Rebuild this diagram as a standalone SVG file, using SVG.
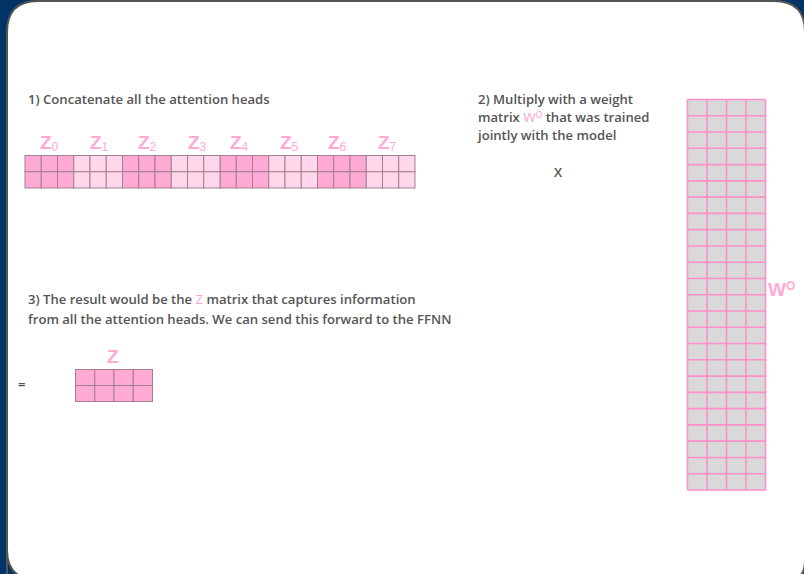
<svg xmlns="http://www.w3.org/2000/svg" width="804" height="574" viewBox="0 0 804 574">
<defs>
<style>
.t{font-family:"Open Sans","Liberation Sans",sans-serif;font-size:13.1px;font-weight:600;fill:#555}
.z{font-family:"Liberation Sans","Arial",sans-serif;font-size:19px;font-weight:700;fill:#ffaad5}
.zs{font-size:12px;font-weight:400}
.pk{fill:#ff9fd2}
.dk{fill:#ffaad4;stroke:#a08090;stroke-width:1}
.lt{fill:#ffd6ea;stroke:#a08090;stroke-width:1}
.wl{stroke:#ff8fc8;stroke-width:1.6;fill:none}
</style>
</defs>
<rect x="0" y="0" width="804" height="574" fill="#003366"/>
<path d="M7 574 V32 Q7 1 38 1 H774 Q805 1 805 32 V560 Q805 580 790 580 H38 Q7 580 7 550 Z" fill="#fff" stroke="#555" stroke-width="2"/>
<rect x="8" y="70" width="6" height="420" fill="#fff"/>

<g id="step1">
<text class="t" x="28" y="104">1) Concatenate all the attention heads</text>
</g>

<g id="heads-labels">
<text class="z" x="40" y="149">Z<tspan class="zs" dy="2">0</tspan></text>
<text class="z" x="90" y="149">Z<tspan class="zs" dy="2">1</tspan></text>
<text class="z" x="138" y="149">Z<tspan class="zs" dy="2">2</tspan></text>
<text class="z" x="188" y="149">Z<tspan class="zs" dy="2">3</tspan></text>
<text class="z" x="230" y="149">Z<tspan class="zs" dy="2">4</tspan></text>
<text class="z" x="280" y="149">Z<tspan class="zs" dy="2">5</tspan></text>
<text class="z" x="328" y="149">Z<tspan class="zs" dy="2">6</tspan></text>
<text class="z" x="378" y="149">Z<tspan class="zs" dy="2">7</tspan></text>
</g>

<g id="concat-matrix">
<g class="dk">
<rect x="25" y="155.5" width="16.25" height="16.25"/><rect x="41.25" y="155.5" width="16.25" height="16.25"/><rect x="57.5" y="155.5" width="16.25" height="16.25"/>
<rect x="25" y="171.75" width="16.25" height="16.25"/><rect x="41.25" y="171.75" width="16.25" height="16.25"/><rect x="57.5" y="171.75" width="16.25" height="16.25"/>
<rect x="122.5" y="155.5" width="16.25" height="16.25"/><rect x="138.75" y="155.5" width="16.25" height="16.25"/><rect x="155" y="155.5" width="16.25" height="16.25"/>
<rect x="122.5" y="171.75" width="16.25" height="16.25"/><rect x="138.75" y="171.75" width="16.25" height="16.25"/><rect x="155" y="171.75" width="16.25" height="16.25"/>
<rect x="220" y="155.5" width="16.25" height="16.25"/><rect x="236.25" y="155.5" width="16.25" height="16.25"/><rect x="252.5" y="155.5" width="16.25" height="16.25"/>
<rect x="220" y="171.75" width="16.25" height="16.25"/><rect x="236.25" y="171.75" width="16.25" height="16.25"/><rect x="252.5" y="171.75" width="16.25" height="16.25"/>
<rect x="317.5" y="155.5" width="16.25" height="16.25"/><rect x="333.75" y="155.5" width="16.25" height="16.25"/><rect x="350" y="155.5" width="16.25" height="16.25"/>
<rect x="317.5" y="171.75" width="16.25" height="16.25"/><rect x="333.75" y="171.75" width="16.25" height="16.25"/><rect x="350" y="171.75" width="16.25" height="16.25"/>
</g>
<g class="lt">
<rect x="73.75" y="155.5" width="16.25" height="16.25"/><rect x="90" y="155.5" width="16.25" height="16.25"/><rect x="106.25" y="155.5" width="16.25" height="16.25"/>
<rect x="73.75" y="171.75" width="16.25" height="16.25"/><rect x="90" y="171.75" width="16.25" height="16.25"/><rect x="106.25" y="171.75" width="16.25" height="16.25"/>
<rect x="171.25" y="155.5" width="16.25" height="16.25"/><rect x="187.5" y="155.5" width="16.25" height="16.25"/><rect x="203.75" y="155.5" width="16.25" height="16.25"/>
<rect x="171.25" y="171.75" width="16.25" height="16.25"/><rect x="187.5" y="171.75" width="16.25" height="16.25"/><rect x="203.75" y="171.75" width="16.25" height="16.25"/>
<rect x="268.75" y="155.5" width="16.25" height="16.25"/><rect x="285" y="155.5" width="16.25" height="16.25"/><rect x="301.25" y="155.5" width="16.25" height="16.25"/>
<rect x="268.75" y="171.75" width="16.25" height="16.25"/><rect x="285" y="171.75" width="16.25" height="16.25"/><rect x="301.25" y="171.75" width="16.25" height="16.25"/>
<rect x="366.25" y="155.5" width="16.25" height="16.25"/><rect x="382.5" y="155.5" width="16.25" height="16.25"/><rect x="398.75" y="155.5" width="16.25" height="16.25"/>
<rect x="366.25" y="171.75" width="16.25" height="16.25"/><rect x="382.5" y="171.75" width="16.25" height="16.25"/><rect x="398.75" y="171.75" width="16.25" height="16.25"/>
</g>
</g>

<g id="step2">
<text class="t" x="478" y="104">2) Multiply with a weight</text>
<text class="t" x="478" y="122">matrix <tspan class="pk" font-weight="400" font-size="13.5">W<tspan font-size="8.5" dy="-4">O</tspan></tspan><tspan dy="4"> that was trained</tspan></text>
<text class="t" x="478" y="140">jointly with the model</text>
<text class="t" x="554" y="177" font-weight="400">X</text>
</g>

<g id="wo-matrix">
<rect x="687.5" y="99.5" width="78" height="390.5" fill="#d9d9d9"/>
<path class="wl" d="M687.5 99.5V490M707 99.5V490M726.5 99.5V490M746 99.5V490M765.5 99.5V490
M687.5 99.5H765.5M687.5 115.77H765.5M687.5 132.04H765.5M687.5 148.31H765.5M687.5 164.58H765.5M687.5 180.85H765.5
M687.5 197.12H765.5M687.5 213.39H765.5M687.5 229.66H765.5M687.5 245.93H765.5M687.5 262.2H765.5M687.5 278.47H765.5
M687.5 294.74H765.5M687.5 311.01H765.5M687.5 327.28H765.5M687.5 343.55H765.5M687.5 359.82H765.5M687.5 376.09H765.5
M687.5 392.36H765.5M687.5 408.63H765.5M687.5 424.9H765.5M687.5 441.17H765.5M687.5 457.44H765.5M687.5 473.71H765.5M687.5 490H765.5"/>
<text class="z" x="768" y="296" font-size="18">W<tspan font-size="12" dy="-6">O</tspan></text>
</g>

<g id="step3">
<text class="t" x="28" y="304">3) The result would be the <tspan class="pk" font-weight="400">Z</tspan> matrix that captures information</text>
<text class="t" x="28" y="324">from all the attention heads. We can send this forward to the FFNN</text>
<text class="t" x="18" y="389" font-weight="400">=</text>
</g>

<g id="result-matrix">
<text class="z" x="107" y="363">Z</text>
<g class="dk">
<rect x="75.5" y="369.5" width="19.25" height="16"/><rect x="94.75" y="369.5" width="19.25" height="16"/><rect x="114" y="369.5" width="19.25" height="16"/><rect x="133.25" y="369.5" width="19.25" height="16"/>
<rect x="75.5" y="385.5" width="19.25" height="16"/><rect x="94.75" y="385.5" width="19.25" height="16"/><rect x="114" y="385.5" width="19.25" height="16"/><rect x="133.25" y="385.5" width="19.25" height="16"/>
</g>
</g>
</svg>
